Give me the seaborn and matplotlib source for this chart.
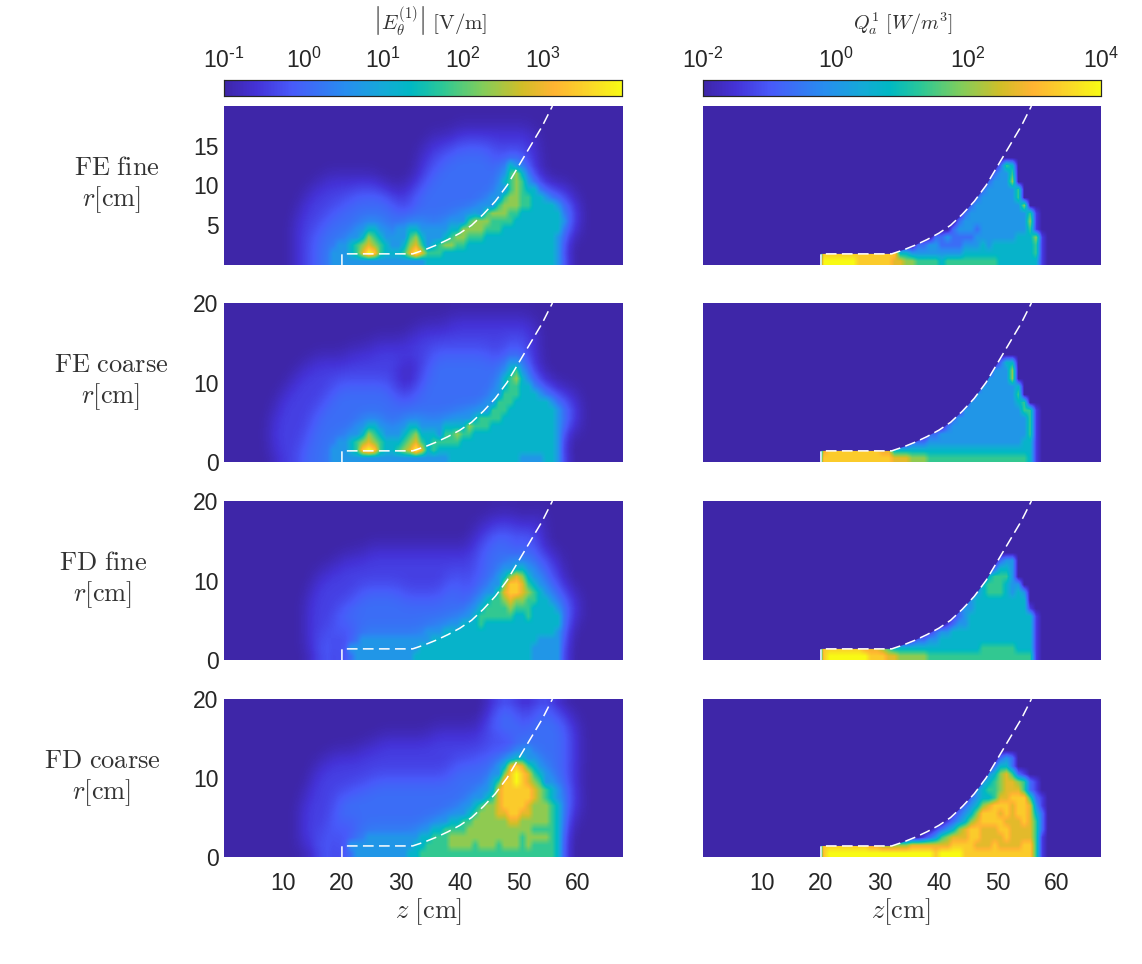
import numpy as np
import seaborn as sns
import matplotlib.pyplot as plt
from matplotlib.colors import LinearSegmentedColormap, LogNorm
from matplotlib.patches import Polygon

# maps are typed as colour levels 0-9, one string per 1 cm of r (top row is r=19),
# one character per 1 cm of z, blanks are only there to count decades of z.
# whatever is missing on the right of a row is background
E_FE_FINE = [
    "",
    "",
    "",
    "0000000000 0000000000 0000000000 0000000001 1111111111 1100",
    "0000000000 0000000000 0000000000 0000011111 1111111111 1110",
    "0000000000 0000000000 0000000000 0000111112 2222211111 1110",
    "0000000000 0000000000 0000000000 0001111222 2222221122 1110",
    "0000000000 0000000000 0000000000 0001112222 2222222243 2110",
    "0000000000 0000000000 0000000000 0001122222 2222222256 4211",
    "0000000000 0000000111 1111110000 0011222222 2222222456 5211",
    "0000000000 0000011111 1111111100 1112222222 2222222356 5442111100",
    "0000000000 0000111111 1122222211 1122222222 2222223566 5544322110",
    "0000000000 0001111111 2222222221 1122222222 2222335666 5544443221",
    "0000000000 0001111122 2222222222 1222222222 2223566655 4444444221",
    "0000000000 0011111222 2222222222 2222222233 3566655554 4444444321",
    "0000000000 0011112222 2223443223 3443333344 6666555444 4444444221",
    "0000000000 0011122222 2234654332 3564333456 6555444444 4444443200",
    "0000000000 0011122223 3456765433 4675345665 5444444444 4444443100",
    "0000000000 0011122233 3457985444 5797555444 4444444444 4444443100",
    "0000000000 0011122233 3333333333 3333444444 4444444444 4444443200",
]
E_FE_COARSE = [
    "",
    "",
    "0000000000 0000000000 0000000000 0000000011 1111111111 11",
    "0000000000 0000000000 0000000000 0001111111 1111111111 111",
    "0000000000 0000000000 0000000000 0111111111 1111111111 111",
    "0000000000 0000000000 0000011111 1111111111 1111111122 1110",
    "0000000000 0000000000 0111111111 1111122222 2222211122 2110",
    "0000000000 0000011111 1111111111 1011122222 2222222233 2110",
    "0000000000 0001111111 1111111111 0011222222 2222222245 3211",
    "0000000000 0011111111 1111111111 0011222222 2222222456 4211",
    "0000000000 0111111112 2222222211 0112222222 2222222455 4422110",
    "0000000000 1111111122 2222222221 1122222222 2222223555 4443221110",
    "0000000001 1111111222 2222222222 2222222222 2222235554 4444432211",
    "0000000001 1111112222 2222222222 2222222222 2222355544 4444443221",
    "0000000011 1111122222 2222222222 2222222223 3345555444 4444443221",
    "0000000011 1111122222 2223443222 3443333444 4655544444 4444443211",
    "0000000011 1111222222 2234654333 4564443556 5544444444 4444443100",
    "0000000011 1111222223 3456765444 5675455555 4444444444 4444443000",
    "0000000011 1112222233 3458985445 6797454444 4444444444 4444443000",
    "0000000001 1112222233 3333333333 3333333344 4444444444 3333443100",
]
E_FD_FINE = [
    "",
    "",
    "0000000000 0000000000 0000000000 0000000000 0000011111 0011",
    "0000000000 0000000000 0000000000 0000000000 0001111111 1111",
    "0000000000 0000000000 0000000000 0000000000 0011122221 2211",
    "0000000000 0000000000 0000000000 0000000000 0011122221 2211",
    "0000000000 0000000000 0000111111 1111111111 1112222221 2221100",
    "0000000000 0000000000 1111111111 1111111111 1112222222 2222211",
    "0000000000 0000000011 1111111111 1111111111 1111222234 4322211",
    "0000000000 0000001111 1111111111 1111111112 1122222467 6432211",
    "0000000000 0000011111 1111111111 1111111122 1122223688 7543222100",
    "0000000000 0000011111 1112222222 1111111222 2122235788 7654322110",
    "0000000000 0000111111 1122222222 2222222222 1223455676 6554432211",
    "0000000000 0000111111 2222222222 2222222222 2234555565 5544443221",
    "0000000000 0000111112 2222222222 2222222222 2345555554 4544444211",
    "0000000000 0000111112 2222222222 2222222233 4445444444 4444444210",
    "0000000000 0000111122 1022222222 2222333444 4444444444 4444443200",
    "0000000000 0000111211 0223333333 3333344444 4444444444 4443333200",
    "0000000000 0000112211 2333333333 3334444444 4444444444 4433333100",
    "0000000000 0000011211 1233333333 3344444444 4444444444 4433333100",
]
E_FD_COARSE = [
    "0000000000 0000000000 0000000000 0000000000 0000011111 0011110000",
    "0000000000 0000000000 0000000000 0000000000 0000012222 1122221100",
    "0000000000 0000000000 0000000000 0000000000 0000122222 1122222110",
    "0000000000 0000000000 0000000000 0000000000 0001122222 1222222211",
    "0000000000 0000000000 0000000000 0000011111 1111120222 2222222211",
    "0000000000 0000000000 0000001111 1111111111 1111112022 2222222211",
    "0000000000 0000000000 0001111111 1111111111 1111112202 2322222211",
    "0000000000 0000000011 1111111111 1111111111 1112222204 4322222211",
    "0000000000 0000001111 1111111111 1111111112 2222222478 7543222211",
    "0000000000 0000011111 1111111111 1111111122 2222223689 8754322211",
    "0000000000 0000011111 1111122222 2222222222 2222225889 8765322210",
    "0000000000 0000111111 1122222222 2222222222 2222347888 8876543221",
    "0000000000 0000111112 2222222222 2222222222 2233457888 8876543221",
    "0000000000 0001111112 2222222222 2222222222 2345667888 8766654211",
    "0000000000 0001111112 2222222222 2222222223 3456667788 7766654211",
    "0000000000 0001111122 2222222222 2222222344 5566666677 6666654210",
    "0000000000 0001111122 1022222222 2222344555 5666666666 6655554200",
    "0000000000 0001111211 1222333333 3334455566 6666666666 5666654100",
    "0000000000 0001112211 2333333333 3344555566 6656665666 5655554100",
    "0000000000 0000011211 1233333333 3445555555 5555555555 5555554100",
]
Q_FE_FINE = [
    "", "", "", "", "", "", "",
    "0000000000 0000000000 0000000000 0000000000 0000000000 2540",
    "0000000000 0000000000 0000000000 0000000000 0000000002 3350",
    "0000000000 0000000000 0000000000 0000000000 0000000023 3360",
    "0000000000 0000000000 0000000000 0000000000 0000000233 33350",
    "0000000000 0000000000 0000000000 0000000000 0000002333 33350",
    "0000000000 0000000000 0000000000 0000000000 0000023333 333360",
    "0000000000 0000000000 0000000000 0000000000 0000233333 33333510",
    "0000000000 0000000000 0000000000 0000000000 0002333333 33333610",
    "0000000000 0000000000 0000000000 0000000000 0023332333 33333510",
    "0000000000 0000000000 0000000000 0000000002 2322223333 33344461",
    "0000000000 0000000000 0000000000 0000002233 2222333434 44444451",
    "0000000000 0000000000 8888888888 8884433333 3333444444 44444451",
    "0000000000 0000000000 9999998888 8877665555 4555555555 44444441",
]
Q_FE_COARSE = [
    "", "", "", "", "", "", "",
    "0000000000 0000000000 0000000000 0000000000 0000000000 2440",
    "0000000000 0000000000 0000000000 0000000000 0000000003 3360",
    "0000000000 0000000000 0000000000 0000000000 0000000033 3360",
    "0000000000 0000000000 0000000000 0000000000 0000000333 33340",
    "0000000000 0000000000 0000000000 0000000000 0000003333 33350",
    "0000000000 0000000000 0000000000 0000000000 0000033333 333450",
    "0000000000 0000000000 0000000000 0000000000 0000333333 3333551",
    "0000000000 0000000000 0000000000 0000000000 0023333333 33333510",
    "0000000000 0000000000 0000000000 0000000000 0233333333 33333510",
    "0000000000 0000000000 0000000000 0000000022 3333333333 33333510",
    "0000000000 0000000000 0000000000 0000022233 3333333333 33334410",
    "0000000000 0000000000 7888888888 7744444444 4444444444 44444410",
    "0000000000 0000000000 8888888888 8877766655 5555555555 55555410",
]
Q_FD_FINE = [
    "", "", "", "", "", "", "",
    "0000000000 0000000000 0000000000 0000000000 0000000000 2330",
    "0000000000 0000000000 0000000000 0000000000 0000000002 4430",
    "0000000000 0000000000 0000000000 0000000000 0000000245 5530",
    "0000000000 0000000000 0000000000 0000000000 0000002455 54330",
    "0000000000 0000000000 0000000000 0000000000 0000023455 543430",
    "0000000000 0000000000 0000000000 0000000000 0000234444 444440",
    "0000000000 0000000000 0000000000 0000000000 0002334444 4444410",
    "0000000000 0000000000 0000000000 0000000000 0012344444 44444410",
    "0000000000 0000000000 0000000000 0000000000 0123344444 44444410",
    "0000000000 0000000000 0000000000 0000000012 3344444444 44444410",
    "0000000000 0000000000 0000000000 0000012233 4444444444 44444410",
    "0000000000 0000000000 8888888777 6544444444 4444444555 55544410",
    "0000000000 0000000000 8999999988 8776666655 5555555555 55555510",
]
Q_FD_COARSE = [
    "", "", "", "", "", "", "",
    "0000000000 0000000000 0000000000 0000000000 0000000000 2320",
    "0000000000 0000000000 0000000000 0000000000 0000000002 4420",
    "0000000000 0000000000 0000000000 0000000000 0000000034 67521",
    "0000000000 0000000000 0000000000 0000000000 0000000345 6776521",
    "0000000000 0000000000 0000000000 0000000000 0000003455 6777521",
    "0000000000 0000000000 0000000000 0000000000 0000023445 77888521",
    "0000000000 0000000000 0000000000 0000000000 0001234678 88788731",
    "0000000000 0000000000 0000000000 0000000000 0012346888 78788742",
    "0000000000 0000000000 0000000000 0000000000 0123467888 87778752",
    "0000000000 0000000000 0000000000 0000000001 2346788777 88777752",
    "0000000000 0000000000 0000000000 0000000123 5677788777 78777751",
    "0000000000 0000000000 8888888877 6666677777 7788887778 77778851",
    "0000000000 0000000000 8999999999 9999999998 9999888888 88888851",
]

E_MAPS = [E_FE_FINE, E_FE_COARSE, E_FD_FINE, E_FD_COARSE]
Q_MAPS = [Q_FE_FINE, Q_FE_COARSE, Q_FD_FINE, Q_FD_COARSE]
ROW_NAMES = ['FE fine', 'FE coarse', 'FD fine', 'FD coarse']
NAME_X = [117, 111, 103, 102]
UNIT_X = [112, 111, 103, 102]
WALL_Z = [20, 20, 32, 34, 36, 38, 40, 42, 44, 46, 48, 50, 52, 54, 55.7]
WALL_R = [0, 1.4, 1.4, 1.9, 2.5, 3.2, 4.0, 5.0, 6.4, 8.0, 10.0, 12.5, 15.0, 17.5, 20.0]
Z_TICKS = [10, 20, 30, 40, 50, 60]
E_TICKS = [1e-1, 1e0, 1e1, 1e2, 1e3]
E_LABELS = [r'\text{-}1', '0', '1', '2', '3']
Q_TICKS = [1e-2, 1e0, 1e2, 1e4]
Q_LABELS = [r'\text{-}2', '0', '2', '4']

CMAP_POS = [0.0, 0.08, 0.17, 0.30, 0.40, 0.47, 0.55, 0.65, 0.75, 0.83, 0.92, 1.0]
CMAP_RGB = [(62, 38, 168), (68, 50, 215), (72, 90, 250), (40, 140, 240), (20, 170, 215), (0, 185, 195),
            (45, 200, 150), (130, 205, 90), (210, 190, 40), (255, 180, 50), (250, 215, 40), (248, 250, 20)]

sns.set_theme(style='white')
plt.rcParams['font.family'] = ['Liberation Sans', 'DejaVu Sans']
plt.rcParams['text.color'] = '#262626'
plt.rcParams['xtick.color'] = '#262626'
plt.rcParams['ytick.color'] = '#262626'

parula = LinearSegmentedColormap.from_list(
    'parula_ish', [(p, tuple(c / 255 for c in rgb)) for p, rgb in zip(CMAP_POS, CMAP_RGB)])

W, H = 1142, 964
fig = plt.figure(figsize=(W / 100, H / 100), dpi=100)


def pix_axes(left, top, right, bottom):
    return fig.add_axes([left / W, 1 - bottom / H, (right - left) / W, (bottom - top) / H])


def to_levels(rows):
    levels = [list(r.replace(' ', '').ljust(68, '0')) for r in rows]
    return np.array(levels, dtype=float)[::-1]


def soften(levels):
    # the faint halos are smooth in the original, only the strong part keeps its edges
    kernel = np.array([1, 2, 3, 2, 1]) / 9
    padded = np.pad(levels, 2, mode='edge')
    blurred = np.apply_along_axis(np.convolve, 1, padded, kernel, mode='same')
    blurred = np.apply_along_axis(np.convolve, 0, blurred, kernel, mode='same')[2:-2, 2:-2]
    return np.where(levels >= 3, levels, blurred)


def latex_text(x, y, s, size=19):
    fig.text(x / W, 1 - y / H, s, ha='center', va='center', fontsize=size,
             math_fontfamily='cm', color='#333333')


def draw_panel(ax, rows, vmin, vmax, cbar_ax=None, below_wall=False):
    levels = to_levels(rows)
    data = vmin * (vmax / vmin) ** (levels / 9)
    sns.heatmap(data, ax=ax, cmap=parula, norm=LogNorm(vmin=vmin, vmax=vmax),
                cbar=cbar_ax is not None, cbar_ax=cbar_ax,
                cbar_kws={'orientation': 'horizontal'}, xticklabels=False, yticklabels=False)
    # seaborn's cells are 1 cm blocks, smooth them for the look of the original
    ax.collections[0].set_visible(False)
    ax.set_facecolor(parula(0.0))
    shown = levels if below_wall else soften(levels)
    im = ax.imshow(shown, cmap=parula, vmin=0, vmax=9, origin='lower', extent=(0, 68, 0, 20),
                   aspect='auto', interpolation='bilinear')
    if below_wall:
        outline = list(zip(WALL_Z, WALL_R)) + [(68, 20), (68, 0)]
        im.set_clip_path(Polygon(outline, transform=ax.transData))
    ax.plot(WALL_Z, WALL_R, color='white', lw=1.1, dashes=(7, 3.5))
    ax.set_xlim(0, 67.5)
    ax.set_ylim(0, 20)
    ax.set_xlabel('')
    ax.set_ylabel('')
    for side in ['top', 'left', 'right']:
        ax.spines[side].set_visible(False)
    ax.spines['bottom'].set_color('#262626')
    ax.spines['bottom'].set_linewidth(0.8)
    ax.tick_params(length=0, labelsize=16.5)
    ax.tick_params(axis='x', pad=11)
    ax.tick_params(axis='y', pad=4)


def style_cbar(cax, ticks, exps):
    cax.set_xticks(ticks)
    cax.set_xticklabels([rf'$\mathdefault{{10^{{{e}}}}}$' for e in exps], fontsize=16.5)
    cax.xaxis.set_ticks_position('top')
    cax.xaxis.set_label_position('top')
    cax.tick_params(axis='x', which='both', direction='in', top=True, bottom=False,
                    length=2, width=0.5, color='#262626', pad=5)
    for spine in cax.spines.values():
        spine.set_visible(True)
        spine.set_color('#262626')
        spine.set_linewidth(0.8)


TOPS = [106, 303, 501, 699]
BOTTOMS = [265, 462, 660, 857]
cax_e = pix_axes(224, 80, 622, 96)
cax_q = pix_axes(703, 80, 1101, 96)

for i in range(4):
    ax_e = pix_axes(224, TOPS[i], 622, BOTTOMS[i])
    ax_q = pix_axes(703, TOPS[i], 1101, BOTTOMS[i])
    draw_panel(ax_e, E_MAPS[i], 1e-1, 1e4, cax_e if i == 0 else None)
    draw_panel(ax_q, Q_MAPS[i], 1e-2, 1e4, cax_q if i == 0 else None, below_wall=True)

    if i == 0:
        ax_e.set_yticks([5, 10, 15])
        ax_e.set_yticklabels(['5', '10', '15'])
    else:
        ax_e.set_yticks([0, 10, 20])
        ax_e.set_yticklabels(['0', '10', '20'])
    ax_q.set_yticks([])
    if i == 3:
        for ax in [ax_e, ax_q]:
            ax.set_xticks(Z_TICKS)
            ax.set_xticklabels([str(t) for t in Z_TICKS])
            ax.spines['bottom'].set_visible(False)
    else:
        ax_e.set_xticks([])
        ax_q.set_xticks([])

    name = ROW_NAMES[i].replace(' ', r'\ ')
    latex_text(NAME_X[i], TOPS[i] + 62, rf'$\mathrm{{{name}}}$')
    latex_text(UNIT_X[i], TOPS[i] + 94, r'$r[\mathrm{cm}]$')

style_cbar(cax_e, E_TICKS, E_LABELS)
style_cbar(cax_q, Q_TICKS, Q_LABELS)

latex_text(430, 22, r'$\left|E_\theta^{(1)}\right|\ [\mathrm{V/m}]$', 15)
latex_text(903, 24, r'$Q_a^1\ [W/m^3]$', 14.5)
latex_text(429, 912, r'$z\ [\mathrm{cm}]$')
latex_text(901, 912, r'$z[\mathrm{cm}]$')

fig.savefig('out.png', dpi=100)
plt.close(fig)
